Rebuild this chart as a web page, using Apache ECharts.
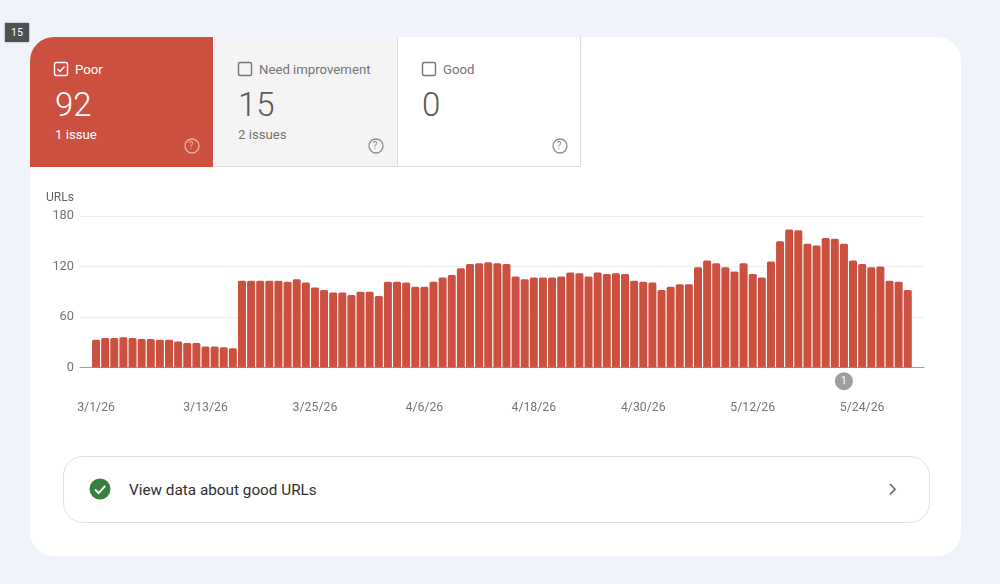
<!DOCTYPE html>
<html>
<head>
<meta charset="utf-8">
<style>
html,body{margin:0;padding:0;width:1000px;height:584px;overflow:hidden;background:#f0f3f9;font-family:Roboto,sans-serif}
.abs{position:absolute;white-space:nowrap}
#badge{left:5px;top:23px;width:24px;height:19px;background:#4b5155;color:#fff;font-size:10.5px;line-height:19px;text-align:center;box-shadow:0 0 2px rgba(0,0,0,.4)}
#card{left:30px;top:37px;width:931px;height:519px;background:#fff;border-radius:24px}
.tab{position:absolute;top:37px;height:130px;width:184px;box-sizing:border-box}
#t1{left:30px;width:183px;background:#cb503f;border-top-left-radius:24px}
#t2{left:214px;background:#f4f4f4;border-bottom:1px solid #ddd;border-right:1px solid #ddd}
#t3{left:398px;width:183px;background:#fff;border-bottom:1px solid #ddd;border-right:1px solid #ddd}
.lab{font-size:13.2px;line-height:17px}
.num{font-size:33px;line-height:38px;font-weight:300}
.sub{font-size:13.2px;line-height:16px}
#chart{position:absolute;left:0;top:0;width:1000px;height:440px}
#btn{left:63px;top:456px;width:867px;height:67px;box-sizing:border-box;border:1px solid #e0e0e0;border-radius:20px}
#btnt{left:129px;top:481px;font-size:15.3px;line-height:18px;color:#2f2f2f}
</style>
</head>
<body>
<div class="abs" id="card"></div>
<div class="tab" id="t1"></div><div class="tab" id="t2"></div><div class="tab" id="t3"></div>
<div class="abs" id="badge">15</div>

<svg class="abs" style="left:0;top:0" width="1000" height="584" fill="none">
  <rect x="54.5" y="62.5" width="13" height="13" rx="1.5" stroke="#fff" stroke-width="1.4"/>
  <path d="M57.5 69l2.5 2.5 4.5-5" stroke="#fff" stroke-width="1.3"/>
  <rect x="238.5" y="62.5" width="13" height="13" rx="1.5" stroke="#757575" stroke-width="1.4"/>
  <rect x="422.5" y="62.5" width="13" height="13" rx="1.5" stroke="#757575" stroke-width="1.4"/>
  <circle cx="192" cy="146" r="7" stroke="#e8b5ad" stroke-width="1.3"/>
  <circle cx="376" cy="146" r="7" stroke="#8e8e8e" stroke-width="1.3"/>
  <circle cx="560" cy="146" r="7" stroke="#8e8e8e" stroke-width="1.3"/>
  <circle cx="100" cy="489" r="10.5" fill="#37803f"/>
  <path d="M95 489.5l3.6 3.6 6.6-7.2" stroke="#fff" stroke-width="2"/>
  <path d="M890 484l5 5.2-5 5.2" stroke="#666" stroke-width="1.6"/>
</svg>

<div class="abs lab" style="left:75px;top:61px;color:#fff">Poor</div>
<div class="abs num" style="left:55px;top:86px;color:#fff">92</div>
<div class="abs sub" style="left:55px;top:127px;color:#fff">1 issue</div>
<div class="abs" style="left:188.5px;top:139px;font-size:10.5px;line-height:14px;color:#e8b5ad">?</div>

<div class="abs lab" style="left:259px;top:61px;color:#757575">Need improvement</div>
<div class="abs num" style="left:238px;top:86px;color:#5a5a5a">15</div>
<div class="abs sub" style="left:238px;top:127px;color:#757575">2 issues</div>
<div class="abs" style="left:372.5px;top:139px;font-size:10.5px;line-height:14px;color:#8e8e8e">?</div>

<div class="abs lab" style="left:443px;top:61px;color:#757575">Good</div>
<div class="abs num" style="left:422px;top:86px;color:#5a5a5a">0</div>
<div class="abs" style="left:556.5px;top:139px;font-size:10.5px;line-height:14px;color:#8e8e8e">?</div>

<div id="chart"></div>
<div class="abs" id="btn"></div>
<div class="abs" id="btnt">View data about good URLs</div>

<script src="https://cdn.jsdelivr.net/npm/echarts@6/dist/echarts.min.js"></script>
<script>
const dates = [];
const monthLengths = [[3,31],[4,30],[5,29]];
monthLengths.forEach(([m,n]) => { for (let d = 1; d <= n; d++) dates.push(m + '/' + d + '/26'); });

const poorUrls = [
  33,35,35,36,35,34,34,33,33,31,29,29,25,25,24,23,
  103,103,103,103,103,102,105,101,95,92,89,89,86,90,90,85,
  102,102,101,96,96,102,107,110,118,123,124,125,124,123,
  108,105,107,107,107,108,113,112,108,113,111,112,111,103,
  102,101,92,96,99,99,119,127,124,119,114,124,111,107,
  126,150,164,163,147,145,154,153,147,127,123,119,120,103,102,92
];
const tickDates = ['3/1/26','3/13/26','3/25/26','4/6/26','4/18/26','4/30/26','5/12/26','5/24/26'];
const annotationDate = '5/22/26';
const annotationLabel = '1';
const annotationOffset = [-16.3];

const chart = echarts.init(document.getElementById('chart'), null, {renderer:'canvas'});
chart.setOption({
  animation:false,
  backgroundColor:'transparent',
  textStyle:{fontFamily:'Roboto'},
  title:{text:'URLs',left:46,top:192,padding:0,textStyle:{color:'#616161',fontSize:12,fontWeight:'normal',fontFamily:'Roboto'}},
  grid:{left:80,right:76,top:216,height:151.5},
  xAxis:{
    type:'value', min:-1.76, max:90.78,
    axisLine:{show:true,onZero:false,lineStyle:{color:'#9e9e9e',width:1}},
    axisTick:{show:false},
    splitLine:{show:false},
    axisLabel:{
      color:'#757575',fontSize:12.3,margin:34.5,
      customValues:tickDates.map(d=>dates.indexOf(d)),
      formatter:v=>dates[Math.round(v)]
    }
  },
  yAxis:{
    type:'value',min:0,max:180,interval:60,
    axisLine:{show:false},axisTick:{show:false},
    axisLabel:{color:'#757575',fontSize:12.8,margin:6,padding:[2,0,0,0]},
    splitLine:{show:true,lineStyle:{color:'#eeeeee',width:1}}
  },
  series:[{
    type:'bar',
    data:poorUrls.map((v,i)=>[i,v]),
    barWidth:8,
    itemStyle:{color:'#cb503f',borderRadius:[1.5,1.5,0,0]}
  },{
    type:'scatter',
    clip:false,
    silent:true,
    symbol:'circle',symbolSize:18,
    itemStyle:{color:'#9e9e9e',opacity:1},
    label:{show:true,position:'inside',formatter:annotationLabel,color:'#fff',fontSize:10},
    data:annotationOffset.map(y=>[dates.indexOf(annotationDate),y])
  }]
});
</script>
</body>
</html>
